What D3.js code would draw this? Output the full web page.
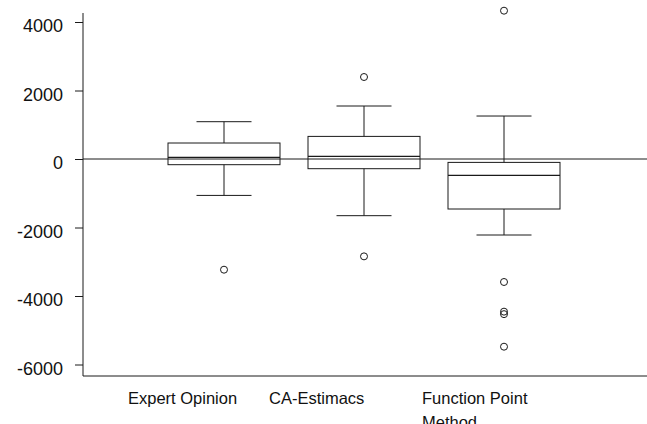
<!DOCTYPE html>
<html>
<head>
<meta charset="utf-8">
<script src="https://cdn.jsdelivr.net/npm/d3@7"></script>
<style>
  body { margin: 0; background: #fff; }
  text { font-family: "Liberation Sans", Arial, sans-serif; fill: #111; }
</style>
</head>
<body>
<div id="boxplot"></div>
<script>
// values
var categories = ["Expert Opinion", "CA-Estimacs", "Function Point Method"];
var labelLines = [["Expert Opinion"], ["CA-Estimacs"], ["Function Point", "Method"]];
var q1 = [-166, -283, -1460];
var medians = [47, 76, -479];
var q3 = [467, 660, -99];
var whiskerLow = [-1063, -1655, -2219];
var whiskerHigh = [1089, 1547, 1255];
var outliers = [[-3232], [2394, -2843], [4330, -3591, -4457, -4530, -5480]];
var yTicks = [4000, 2000, 0, -2000, -4000, -6000];

var width = 647, height = 424;

var svg = d3.select("#boxplot")
  .append("svg")
  .attr("width", width)
  .attr("height", height);

var y = d3.scaleLinear()
  .domain([-6000, 4000])
  .range([364.5, 22]);

var x = d3.scalePoint()
  .domain(categories)
  .range([224, 504]);

var axisX = 83;
var bottomY = 376;
var boxHalf = 56, capHalf = 27.5;
var ink = "#1a1a1a";

// y axis (plain hyphen for the minus, like the original)
var yAxis = svg.append("g")
  .attr("transform", "translate(" + axisX + ",0)")
  .call(d3.axisLeft(y).tickValues(yTicks).tickSize(8).tickPadding(12)
    .tickFormat(function(d) { return String(d); }));
yAxis.select(".domain").remove();
yAxis.selectAll("line").attr("stroke", ink);
yAxis.selectAll("text")
  .attr("dy", "0.55em")
  .style("font-size", "18px")
  .style("font-family", "Liberation Sans, Arial, sans-serif")
  .attr("fill", "#111");

svg.append("line")
  .attr("x1", axisX).attr("x2", axisX)
  .attr("y1", 13).attr("y2", bottomY)
  .attr("stroke", ink);

// bottom axis line
svg.append("line")
  .attr("x1", axisX).attr("x2", width)
  .attr("y1", bottomY).attr("y2", bottomY)
  .attr("stroke", ink);

// zero reference line
svg.append("line")
  .attr("x1", axisX).attr("x2", width)
  .attr("y1", y(0)).attr("y2", y(0))
  .attr("stroke", ink);

categories.forEach(function(cat, i) {
  var cx = x(cat);
  var g = svg.append("g");

  // whiskers
  g.append("line")
    .attr("x1", cx).attr("x2", cx)
    .attr("y1", y(whiskerHigh[i])).attr("y2", y(q3[i]))
    .attr("stroke", ink);
  g.append("line")
    .attr("x1", cx).attr("x2", cx)
    .attr("y1", y(q1[i])).attr("y2", y(whiskerLow[i]))
    .attr("stroke", ink);
  [whiskerHigh[i], whiskerLow[i]].forEach(function(v) {
    g.append("line")
      .attr("x1", cx - capHalf).attr("x2", cx + capHalf)
      .attr("y1", y(v)).attr("y2", y(v))
      .attr("stroke", ink);
  });

  // box
  g.append("rect")
    .attr("x", cx - boxHalf)
    .attr("y", y(q3[i]))
    .attr("width", boxHalf * 2)
    .attr("height", y(q1[i]) - y(q3[i]))
    .attr("fill", "none")
    .attr("stroke", ink);

  // median
  g.append("line")
    .attr("x1", cx - boxHalf).attr("x2", cx + boxHalf)
    .attr("y1", y(medians[i])).attr("y2", y(medians[i]))
    .attr("stroke", ink)
    .attr("stroke-width", 1.4);

  // outliers
  g.selectAll("circle")
    .data(outliers[i])
    .enter()
    .append("circle")
    .attr("cx", cx)
    .attr("cy", function(d) { return y(d); })
    .attr("r", 3.5)
    .attr("fill", "none")
    .attr("stroke", ink);
});

// category labels (left aligned, a bit left of each box centre)
var labelDx = [-96, -95, -82];
labelLines.forEach(function(lines, i) {
  var t = svg.append("text")
    .attr("x", x(categories[i]) + labelDx[i])
    .attr("y", 404)
    .style("font-size", "16.5px");
  lines.forEach(function(line, j) {
    t.append("tspan")
      .attr("x", x(categories[i]) + labelDx[i])
      .attr("dy", j === 0 ? 0 : 24)
      .text(line);
  });
});
</script>
</body>
</html>
